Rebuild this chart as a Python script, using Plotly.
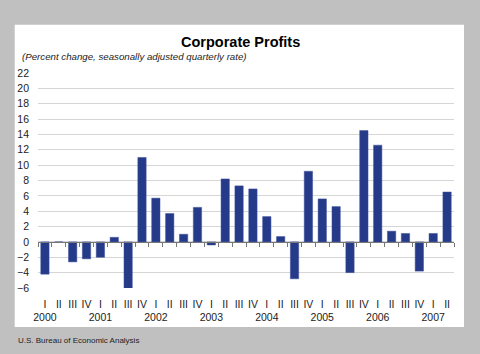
import plotly.graph_objects as go

years = ["2000", "2001", "2002", "2003", "2004", "2005", "2006", "2007"]
quarters = ["I", "II", "III", "IV"]
values = [-4.2, 0.0, -2.6, -2.2,
          -2.0, 0.6, -6.1, 11.0,
          5.7, 3.7, 1.0, 4.5,
          -0.4, 8.2, 7.3, 6.9,
          3.3, 0.7, -4.8, 9.2,
          5.6, 4.6, -4.0, 14.5,
          12.6, 1.4, 1.1, -3.8,
          1.1, 6.5]
y_ticks = list(range(-6, 24, 2))

n = len(values)
labels = []
for i in range(n):
    q = quarters[i % 4]
    if i % 4 == 0:
        labels.append(q + "<br>" + years[i // 4])
    else:
        labels.append(q)

W, H = 480, 354
L, R, T, B = 38.3, 25.7, 73.3, 65.7
pw, ph = W - L - R, H - T - B

def px_x(x):
    return (x - L) / pw

def px_y(y):
    return (H - B - y) / ph

FONT = "Liberation Sans, Arial, sans-serif"
TXT = "#222222"

fig = go.Figure()
fig.add_trace(go.Bar(
    x=list(range(n)), y=values, width=0.6,
    marker=dict(color="#263a8a", line=dict(color="#3d4f9a", width=0.5)),
    xaxis="x", yaxis="y", hoverinfo="skip",
))

ymin, ymax = y_ticks[0], y_ticks[-1]
zero_pos = (0 - ymin) / (ymax - ymin)

fig.update_layout(
    width=W, height=H,
    margin=dict(l=L, r=R, t=T, b=B, pad=0),
    paper_bgcolor="#c0c0c0",
    plot_bgcolor="rgba(0,0,0,0)",
    showlegend=False,
    font=dict(family=FONT, color=TXT, size=10),
    xaxis=dict(
        range=[-0.5, n - 0.5], anchor="free", position=zero_pos,
        showgrid=False, zeroline=False, showline=True, linecolor="#777777", linewidth=1,
        tickmode="array", tickvals=[i - 0.5 for i in range(n + 1)],
        ticks="outside", ticklen=4, tickcolor="#777777", showticklabels=False,
        fixedrange=True,
    ),
    xaxis2=dict(
        range=[-0.5, n - 0.5], overlaying="x", anchor="y", side="bottom",
        showgrid=False, zeroline=False, showline=False, ticks="",
        tickmode="array", tickvals=list(range(n)), ticktext=labels, tickangle=0,
        tickfont=dict(size=10.5, color=TXT, family=FONT), ticklabelstandoff=8,
    ),
    yaxis=dict(
        range=[ymin, ymax], tickmode="array", tickvals=y_ticks,
        showgrid=True, gridcolor="#d6d6d6", gridwidth=1, zeroline=False,
        showline=False, ticks="", tickfont=dict(size=10.5, color=TXT, family=FONT),
        ticklabelstandoff=8,
    ),
    shapes=[dict(
        type="rect", xref="paper", yref="paper", layer="below",
        x0=px_x(15), x1=px_x(464.3), y0=px_y(327.3), y1=px_y(25),
        fillcolor="white", line=dict(width=0),
    )],
    annotations=[
        dict(text="<b>Corporate Profits</b>", xref="paper", yref="paper",
             x=px_x(241), y=px_y(42), xanchor="center", yanchor="middle",
             showarrow=False, font=dict(size=14.5, color="#000000", family=FONT)),
        dict(text="<i>(Percent change, seasonally adjusted quarterly rate)</i>",
             xref="paper", yref="paper", x=px_x(20), y=px_y(57),
             xanchor="left", yanchor="middle", showarrow=False,
             font=dict(size=9.7, color=TXT, family=FONT)),
        dict(text="U.S. Bureau of Economic Analysis", xref="paper", yref="paper",
             x=px_x(16), y=px_y(341), xanchor="left", yanchor="middle",
             showarrow=False, font=dict(size=8, color=TXT, family=FONT)),
    ],
)

# invisible trace to activate xaxis2
fig.add_trace(go.Scatter(x=[0], y=[0], xaxis="x2", yaxis="y", mode="markers",
                         marker=dict(opacity=0), hoverinfo="skip", showlegend=False))

fig.write_html("out.html")
